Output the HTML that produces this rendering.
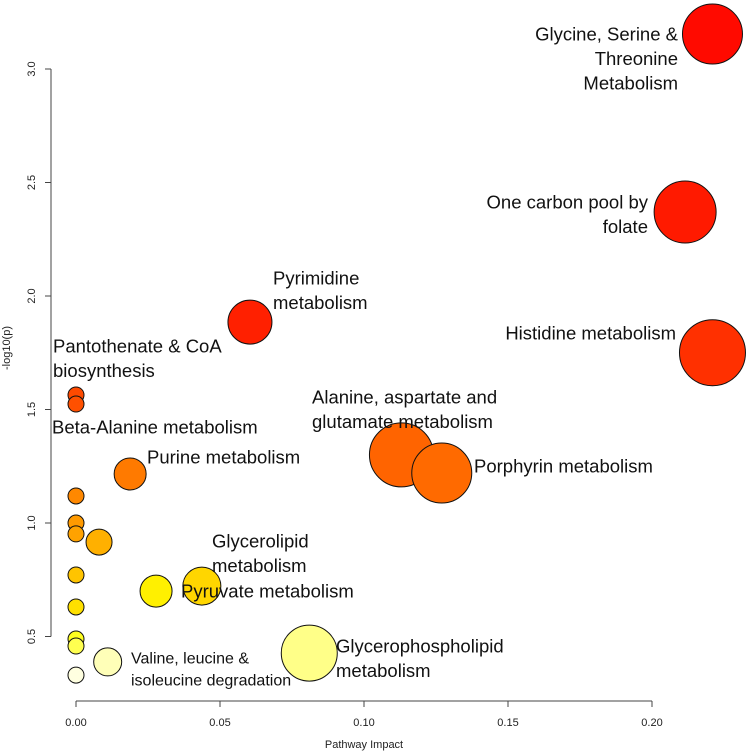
<!DOCTYPE html>
<html><head><meta charset="utf-8"><style>body{margin:0;background:#fff}svg{display:block}</style></head>
<body>
<svg id="chart" width="750" height="756" viewBox="0 0 750 756" xmlns="http://www.w3.org/2000/svg" font-family="Liberation Sans, sans-serif"></svg>
<script>
const impactValues=[0.221,0.2115,0.221,0.0604,0,0,0.0188,0.113,0.127,0,0,0,0.008,0,0.0437,0,0.0278,0,0,0.081,0.011,0];
const logpValues=[3.154,2.37,1.75,1.885,1.564,1.524,1.216,1.30,1.22,1.119,1.0,0.952,0.916,0.771,0.722,0.63,0.70,0.489,0.458,0.427,0.388,0.33];
const radii=[30,31,33,22,8,8,16,32,30,8,8,8,13,8,19,8,16,8,8,28,14,8];
const colors=["#ff0a00","#ff1a00","#ff3000","#ff2000","#ff4a00","#ff5000","#ff7a00","#ff6400","#ff6a00","#ff8800","#ff9a00","#ffa200","#ffb000","#ffc400","#ffd600","#ffe000","#fff000","#ffff20","#ffff50","#ffff88","#ffffb8","#ffffe0"];
const xTicks=[0,0.05,0.1,0.15,0.2];
const xTickLabels=["0.00","0.05","0.10","0.15","0.20"];
const yTicks=[0.5,1.0,1.5,2.0,2.5,3.0];
const yTickLabels=["0.5","1.0","1.5","2.0","2.5","3.0"];
const labels=[
 {t:["Glycine, Serine &","Threonine","Metabolism"],x:678,y:34,a:"end"},
 {t:["One carbon pool by","folate"],x:648,y:202,a:"end"},
 {t:["Histidine metabolism"],x:676,y:333,a:"end"},
 {t:["Pyrimidine","metabolism"],x:273,y:278,a:"start"},
 {t:["Pantothenate & CoA","biosynthesis"],x:53,y:346,a:"start"},
 {t:["Beta-Alanine metabolism"],x:52,y:427,a:"start"},
 {t:["Purine metabolism"],x:147,y:457,a:"start"},
 {t:["Alanine, aspartate and","glutamate metabolism"],x:312,y:397,a:"start"},
 {t:["Porphyrin metabolism"],x:474,y:466,a:"start"},
 {t:["Glycerolipid","metabolism"],x:212,y:541,a:"start"},
 {t:["Pyruvate metabolism"],x:181,y:591,a:"start"},
 {t:["Glycerophospholipid","metabolism"],x:336,y:646,a:"start"},
 {t:["Valine, leucine &","isoleucine degradation"],x:131,y:658,a:"start",s:16,lh:22}
];
const svg=document.getElementById('chart');
const NS="http://www.w3.org/2000/svg";
const xs=v=>76+v*2880;
const ys=v=>69+(3-v)*227;
function mk(tag,attrs,parent){const e=document.createElementNS(NS,tag);for(const k in attrs)e.setAttribute(k,attrs[k]);(parent||svg).appendChild(e);return e;}
const xa=mk('g',{});


mk('line',{x1:xs(0),x2:xs(0.2),y1:701,y2:701,stroke:'#444'},xa);
xTicks.forEach((v,i)=>{
 mk('line',{x1:xs(v),x2:xs(v),y1:701,y2:707,stroke:'#444'},xa);
 const t=mk('text',{x:xs(v),y:726,'font-size':11,'text-anchor':'middle',fill:'#222'},xa);
 
 
 t.textContent=xTickLabels[i];
});
const ya=mk('g',{});


mk('line',{x1:51,x2:51,y1:ys(0.5),y2:ys(3),stroke:'#444'},ya);
yTicks.forEach((v,i)=>{
 mk('line',{x1:45,x2:51,y1:ys(v),y2:ys(v),stroke:'#444'},ya);
 const t=mk('text',{x:0,y:0,'font-size':11,'text-anchor':'middle',fill:'#222',transform:`translate(35,${ys(v)}) rotate(-90)`},ya);
 
 
 t.textContent=yTickLabels[i];
});
const xt=mk('text',{x:xs(0.1),y:748,'font-size':11,'text-anchor':'middle',fill:'#222'});


xt.textContent='Pathway Impact';
const yt=mk('text',{x:0,y:0,'font-size':11,'text-anchor':'middle',fill:'#222',transform:'translate(10,348) rotate(-90)'});


yt.textContent='-log10(p)';
impactValues.forEach((v,i)=>{
 const c=mk('circle',{cx:xs(v),cy:ys(logpValues[i]),r:radii[i],fill:colors[i],stroke:'#111','stroke-width':1});
 
 
});
labels.forEach(l=>{
 const s=l.s||18.5,lh=l.lh||24.5;
 l.t.forEach((line,j)=>{
  const t=mk('text',{x:l.x,y:l.y+j*lh+s*0.35,'font-size':s,'text-anchor':l.a,fill:'#111'});
  
  
  t.textContent=line;
 });
});
</script>
</body></html>
